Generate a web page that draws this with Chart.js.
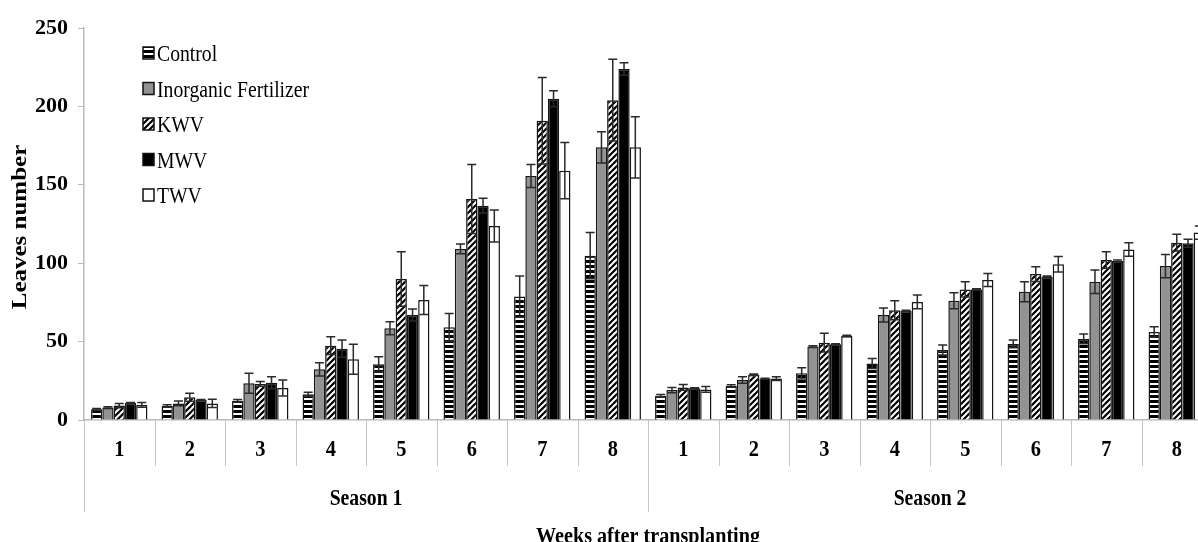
<!DOCTYPE html>
<html>
<head>
<meta charset="utf-8">
<script src="https://cdn.jsdelivr.net/npm/chart.js@4.4.1/dist/chart.umd.min.js"></script>
<style>
  html, body { margin: 0; padding: 0; background: #fff; overflow: hidden; }
  #wrap { position: relative; width: 1240px; height: 542px; }
</style>
</head>
<body>
<div id="wrap"><canvas id="chart" width="1240" height="542"></canvas></div>
<script>
// Weeks after transplanting, repeated for each season
const weeks = ['1', '2', '3', '4', '5', '6', '7', '8'];
const seasons = ['Season 1', 'Season 2'];
const seriesNames = ['Control', 'Inorganic Fertilizer', 'KWV', 'MWV', 'TWV'];
const yTicks = [0, 50, 100, 150, 200, 250];

// Mean leaves number (season 1 weeks 1-8, then season 2 weeks 1-8)
const control    = [6.8, 9, 12.3, 16.4, 35.5, 59.1, 78.7, 104.8, 15.5, 21.7, 29.8, 36.1, 44.6, 48.5, 51.7, 56.1];
const inorganic  = [7.9, 10.6, 23.4, 32.3, 58.5, 109.1, 155.6, 173.9, 19.1, 25.5, 46.8, 67, 76.1, 81.8, 88.2, 98.2];
const kwv        = [9.2, 14.5, 23, 47.4, 89.9, 140.9, 190.9, 204, 20.8, 28.9, 49.3, 70, 83.3, 93.1, 102, 113.1];
const mwv        = [10.8, 12.8, 23.8, 45.5, 67, 136.7, 204.9, 223.9, 20.2, 26.4, 48.3, 69.5, 83.3, 91.4, 101.4, 112.7];
const twv        = [9.6, 10.6, 20.4, 38.7, 76.5, 123.7, 159, 173.9, 19.5, 26.4, 53.6, 75.3, 89.3, 99.3, 108.8, 119.5];

// Standard errors
const controlErr   = [0.6, 0.8, 0.8, 1.3, 4.9, 8.9, 13.1, 14.7, 0.8, 0.8, 3.6, 3.2, 3.2, 2.5, 3.1, 3.4];
const inorganicErr = [0.5, 1.5, 6.4, 4.2, 4.2, 3.1, 7.4, 10, 1.7, 2.1, 0.6, 4.5, 5.1, 6.4, 7.5, 7.4];
const kwvErr       = [1.4, 2.5, 1.5, 5.7, 17.4, 22, 27.6, 26, 1.9, 0.5, 6, 6, 4.9, 4.7, 5.3, 5.3];
const mwvErr       = [0.4, 0.3, 3.8, 5.5, 3.8, 4.7, 5.1, 4, 0.3, 0.3, 0.3, 0.5, 0.4, 0.5, 0.6, 2.5];
const twvErr       = [1.5, 2.6, 5.1, 9.6, 9.2, 10.2, 17.9, 19.5, 1.8, 1.2, 0.5, 4.4, 4.2, 4.9, 4.3, 4.2];

const SERIF = "'Liberation Serif', 'Times New Roman', serif";

// ---- fill patterns ----
function makePattern(w, h, paint) {
  const c = document.createElement('canvas');
  c.width = w; c.height = h;
  const g = c.getContext('2d');
  paint(g, w, h);
  return g.createPattern(c, 'repeat');
}
const ctx = document.getElementById('chart').getContext('2d');

const hStripes = makePattern(4, 5, (g, w, h) => {
  g.fillStyle = '#000'; g.fillRect(0, 0, w, h);
  g.fillStyle = '#fff'; g.fillRect(0, 3, w, 2);
});
const diagStripes = makePattern(6, 6, (g, w, h) => {
  g.fillStyle = '#000'; g.fillRect(0, 0, w, h);
  g.strokeStyle = '#fff'; g.lineWidth = 2;
  g.beginPath();
  g.moveTo(0, h); g.lineTo(w, 0);
  g.moveTo(-1, 1); g.lineTo(1, -1);
  g.moveTo(w - 1, h + 1); g.lineTo(w + 1, h - 1);
  g.stroke();
});

const fills = [hStripes, '#929292', diagStripes, '#000000', '#ffffff'];
const values = [control, inorganic, kwv, mwv, twv];
const errors = [controlErr, inorganicErr, kwvErr, mwvErr, twvErr];

function squeezedText(c, text, x, y, font, align, sx) {
  c.save();
  c.translate(x, y);
  c.scale(sx, 1);
  c.font = font;
  c.textAlign = align;
  c.textBaseline = 'alphabetic';
  c.fillStyle = '#000';
  c.fillText(text, 0, 0);
  c.restore();
}

// ---- error bars ----
const errorBars = {
  id: 'errorBars',
  afterDatasetsDraw(chart) {
    const c = chart.ctx, y = chart.scales.y;
    c.save();
    c.strokeStyle = '#2a2a2a';
    c.lineWidth = 1.5;
    chart.data.datasets.forEach((ds, di) => {
      const meta = chart.getDatasetMeta(di);
      meta.data.forEach((bar, i) => {
        const v = ds.data[i], e = ds.errors[i];
        const top = y.getPixelForValue(v + e), bot = y.getPixelForValue(v - e);
        c.beginPath();
        c.moveTo(bar.x, top); c.lineTo(bar.x, bot);
        c.moveTo(bar.x - 4.5, top); c.lineTo(bar.x + 4.5, top);
        c.moveTo(bar.x - 4.5, bot); c.lineTo(bar.x + 4.5, bot);
        c.stroke();
      });
    });
    c.restore();
  }
};

// ---- grouped category axis, titles and legend ----
const decorations = {
  id: 'decorations',
  afterDraw(chart) {
    const c = chart.ctx, x = chart.scales.x, area = chart.chartArea;
    const n = chart.data.labels.length;
    const step = (area.right - area.left) / n;
    const base = area.bottom;
    c.save();
    c.strokeStyle = '#c4c4c4';
    c.lineWidth = 1;
    for (let i = 0; i <= n; i++) {
      const px = Math.round(area.left + i * step) + 0.5;
      const long = i % weeks.length === 0;
      c.beginPath();
      c.moveTo(px, base);
      c.lineTo(px, long ? base + 92 : base + 46);
      c.stroke();
    }
    chart.data.labels.forEach((lab, i) => {
      squeezedText(c, lab, x.getPixelForValue(i), base + 36, 'bold 24px ' + SERIF, 'center', 0.85);
    });
    seasons.forEach((s, k) => {
      const a = x.getPixelForValue(k * weeks.length);
      const b = x.getPixelForValue((k + 1) * weeks.length - 1);
      squeezedText(c, s, (a + b) / 2, base + 85, 'bold 24px ' + SERIF, 'center', 0.82);
    });
    squeezedText(c, 'Weeks after transplanting', (area.left + area.right) / 2, base + 123,
      'bold 24px ' + SERIF, 'center', 0.84);

    // y axis title
    c.save();
    c.translate(26, 227);
    c.rotate(-Math.PI / 2);
    c.scale(1, 0.85);
    c.font = 'bold 25px ' + SERIF;
    c.textAlign = 'center';
    c.textBaseline = 'alphabetic';
    c.fillStyle = '#000';
    c.fillText('Leaves number', 0, 0);
    c.restore();

    // legend
    const rows = [53, 88.5, 124, 159.5, 195];
    chart.data.datasets.forEach((ds, i) => {
      const cy = rows[i];
      c.fillStyle = ds.backgroundColor;
      c.fillRect(143, cy - 6, 11, 12);
      c.strokeStyle = '#111';
      c.lineWidth = 1.5;
      c.strokeRect(143, cy - 6, 11, 12);
      squeezedText(c, ds.label, 157, cy + 8, '24px ' + SERIF, 'left', 0.82);
    });
    c.restore();
  }
};

new Chart(ctx, {
  type: 'bar',
  data: {
    labels: weeks.concat(weeks),
    datasets: seriesNames.map((name, i) => ({
      label: name,
      data: values[i],
      errors: errors[i],
      backgroundColor: fills[i],
      borderColor: '#151515',
      borderWidth: 1.5,
      categoryPercentage: 0.8,
      barPercentage: 1.0
    }))
  },
  options: {
    responsive: false,
    animation: false,
    layout: { padding: { top: 28, right: 28, left: 0, bottom: 0 } },
    plugins: { legend: { display: false }, tooltip: { enabled: false }, title: { display: false } },
    scales: {
      x: {
        ticks: { display: false },
        grid: { display: false, drawTicks: false },
        border: { color: '#b8b8b8', width: 1.5 },
        afterFit(scale) { scale.height = 122; }
      },
      y: {
        min: 0,
        max: 250,
        afterBuildTicks(scale) { scale.ticks = yTicks.map(v => ({ value: v })); },
        ticks: {
          color: '#000',
          padding: 10,
          font: { family: SERIF, size: 22, weight: 'bold' }
        },
        grid: { drawOnChartArea: false, drawTicks: true, tickLength: 6, color: '#b8b8b8' },
        border: { color: '#b8b8b8', width: 1.5 },
        afterFit(scale) { scale.width = 84; }
      }
    }
  },
  plugins: [errorBars, decorations]
});
</script>
</body>
</html>
